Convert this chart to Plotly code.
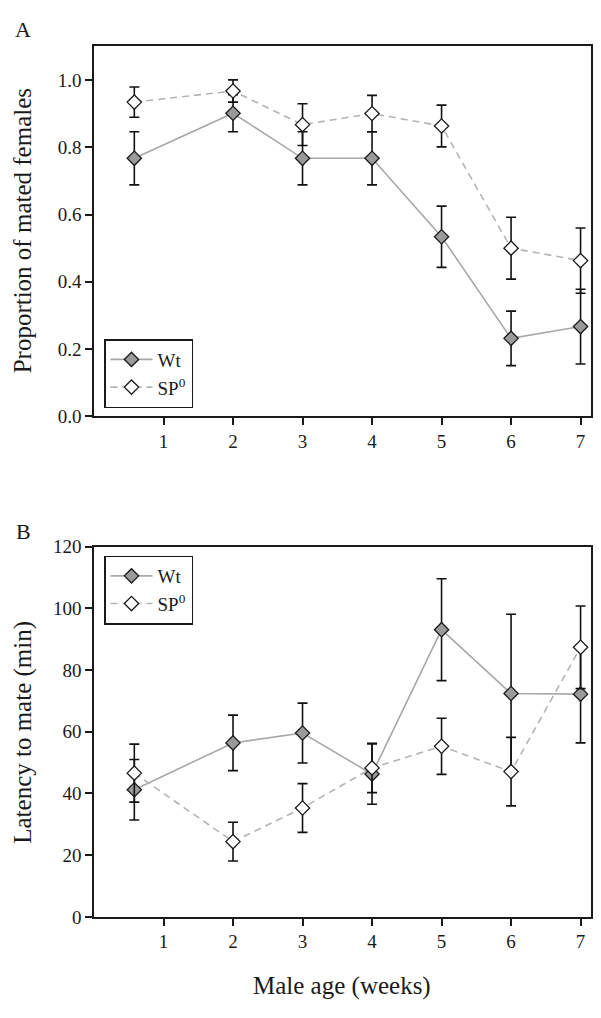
import plotly.graph_objects as go

# ---- data ----
weeks = [0.58, 2, 3, 4, 5, 6, 7]
tick_vals = [1, 2, 3, 4, 5, 6, 7]
tick_text = ["1", "2", "3", "4", "5", "6", "7"]

# Panel A: proportion of mated females
wt_prop = [0.767, 0.901, 0.767, 0.767, 0.534, 0.232, 0.267]
wt_prop_err = [0.079, 0.055, 0.079, 0.079, 0.091, 0.081, 0.111]
sp_prop = [0.934, 0.967, 0.867, 0.900, 0.863, 0.500, 0.463]
sp_prop_err = [0.045, 0.033, 0.062, 0.054, 0.062, 0.092, 0.097]

# Panel B: latency to mate (min)
wt_lat = [41.2, 56.4, 59.6, 46.3, 93.1, 72.4, 72.2]
wt_lat_err = [9.8, 9.0, 9.7, 9.8, 16.5, 25.7, 15.8]
sp_lat = [46.6, 24.4, 35.3, 48.3, 55.3, 47.1, 87.4]
sp_lat_err = [9.4, 6.3, 7.9, 8.0, 9.1, 11.1, 13.4]

series_names = ["Wt", "SP<sup>0</sup>"]

FONT = "Liberation Serif"
TXT = "#1a1a1a"

W, H = 601, 1018
xdom = [94 / W, 591 / W]
ydomA = [1 - 415 / H, 1 - 37 / H]
ydomB = [1 - 926 / H, 1 - 548 / H]

fig = go.Figure()


def add_series(x, y, e, name, xa, ya, leg, filled):
    fig.add_trace(go.Scatter(
        x=x, y=y, name=name, xaxis=xa, yaxis=ya, legend=leg,
        mode="lines+markers",
        line=dict(color="#a8a8a8" if filled else "#b4b4b4", width=1.6,
                  dash="solid" if filled else "7px,5px"),
        marker=dict(symbol="diamond", size=11,
                    color="#9a9a9a" if filled else "white",
                    line=dict(color="#1a1a1a", width=1.3)),
        error_y=dict(type="data", array=e, visible=True, color="#111111",
                     thickness=1.6, width=5),
    ))


add_series(weeks, wt_prop, wt_prop_err, series_names[0], "x", "y", "legend", True)
add_series(weeks, sp_prop, sp_prop_err, series_names[1], "x", "y", "legend", False)
add_series(weeks, wt_lat, wt_lat_err, series_names[0], "x2", "y2", "legend2", True)
add_series(weeks, sp_lat, sp_lat_err, series_names[1], "x2", "y2", "legend2", False)

axis_common = dict(showline=True, linecolor="#1a1a1a", linewidth=1.5, mirror=True,
                   ticks="outside", ticklen=7, tickwidth=1.5, tickcolor="#1a1a1a",
                   showgrid=False, zeroline=False,
                   tickfont=dict(family=FONT, size=19, color=TXT))

legend_common = dict(xanchor="left", yanchor="top",
                     bordercolor="#1a1a1a", borderwidth=1.5, bgcolor="white",
                     font=dict(family=FONT, size=19, color=TXT), itemwidth=42,
                     tracegroupgap=0)


def ann(text, xpx, ypx, size, angle=0):
    return dict(text=text, x=xpx / W, y=1 - ypx / H, xref="paper", yref="paper",
                xanchor="center", yanchor="middle", textangle=angle,
                showarrow=False, font=dict(family=FONT, size=size, color=TXT))


fig.update_layout(
    width=W, height=H,
    margin=dict(l=0, r=0, t=0, b=0),
    paper_bgcolor="white", plot_bgcolor="white",
    font=dict(family=FONT, color=TXT),
    xaxis=dict(domain=xdom, range=[0, 7.15], anchor="y",
               tickvals=tick_vals, ticktext=tick_text, **axis_common),
    yaxis=dict(domain=ydomA, range=[0, 1.1], anchor="x",
               tickvals=[0, 0.2, 0.4, 0.6, 0.8, 1.0], tickformat=".1f", **axis_common),
    xaxis2=dict(domain=xdom, range=[0, 7.15], anchor="y2",
                tickvals=tick_vals, ticktext=tick_text, **axis_common),
    yaxis2=dict(domain=ydomB, range=[0, 120], anchor="x2",
                tickvals=[0, 20, 40, 60, 80, 100, 120], **axis_common),
    legend=dict(x=104 / W, y=1 - 336 / H, **legend_common),
    legend2=dict(x=104 / W, y=1 - 557 / H, **legend_common),
    annotations=[
        ann("A", 23, 20, 22),
        ann("B", 23, 532, 22),
        ann("Proportion of mated females", 22, 226, 25, -90),
        ann("Latency to mate (min)", 23, 738, 25, -90),
        ann("Male age (weeks)", 342, 997, 25),
    ],
)

fig.write_html("out.html", config={"displayModeBar": False},
               post_script="document.body.style.margin='0px';"
                           "document.body.style.overflow='hidden';")
